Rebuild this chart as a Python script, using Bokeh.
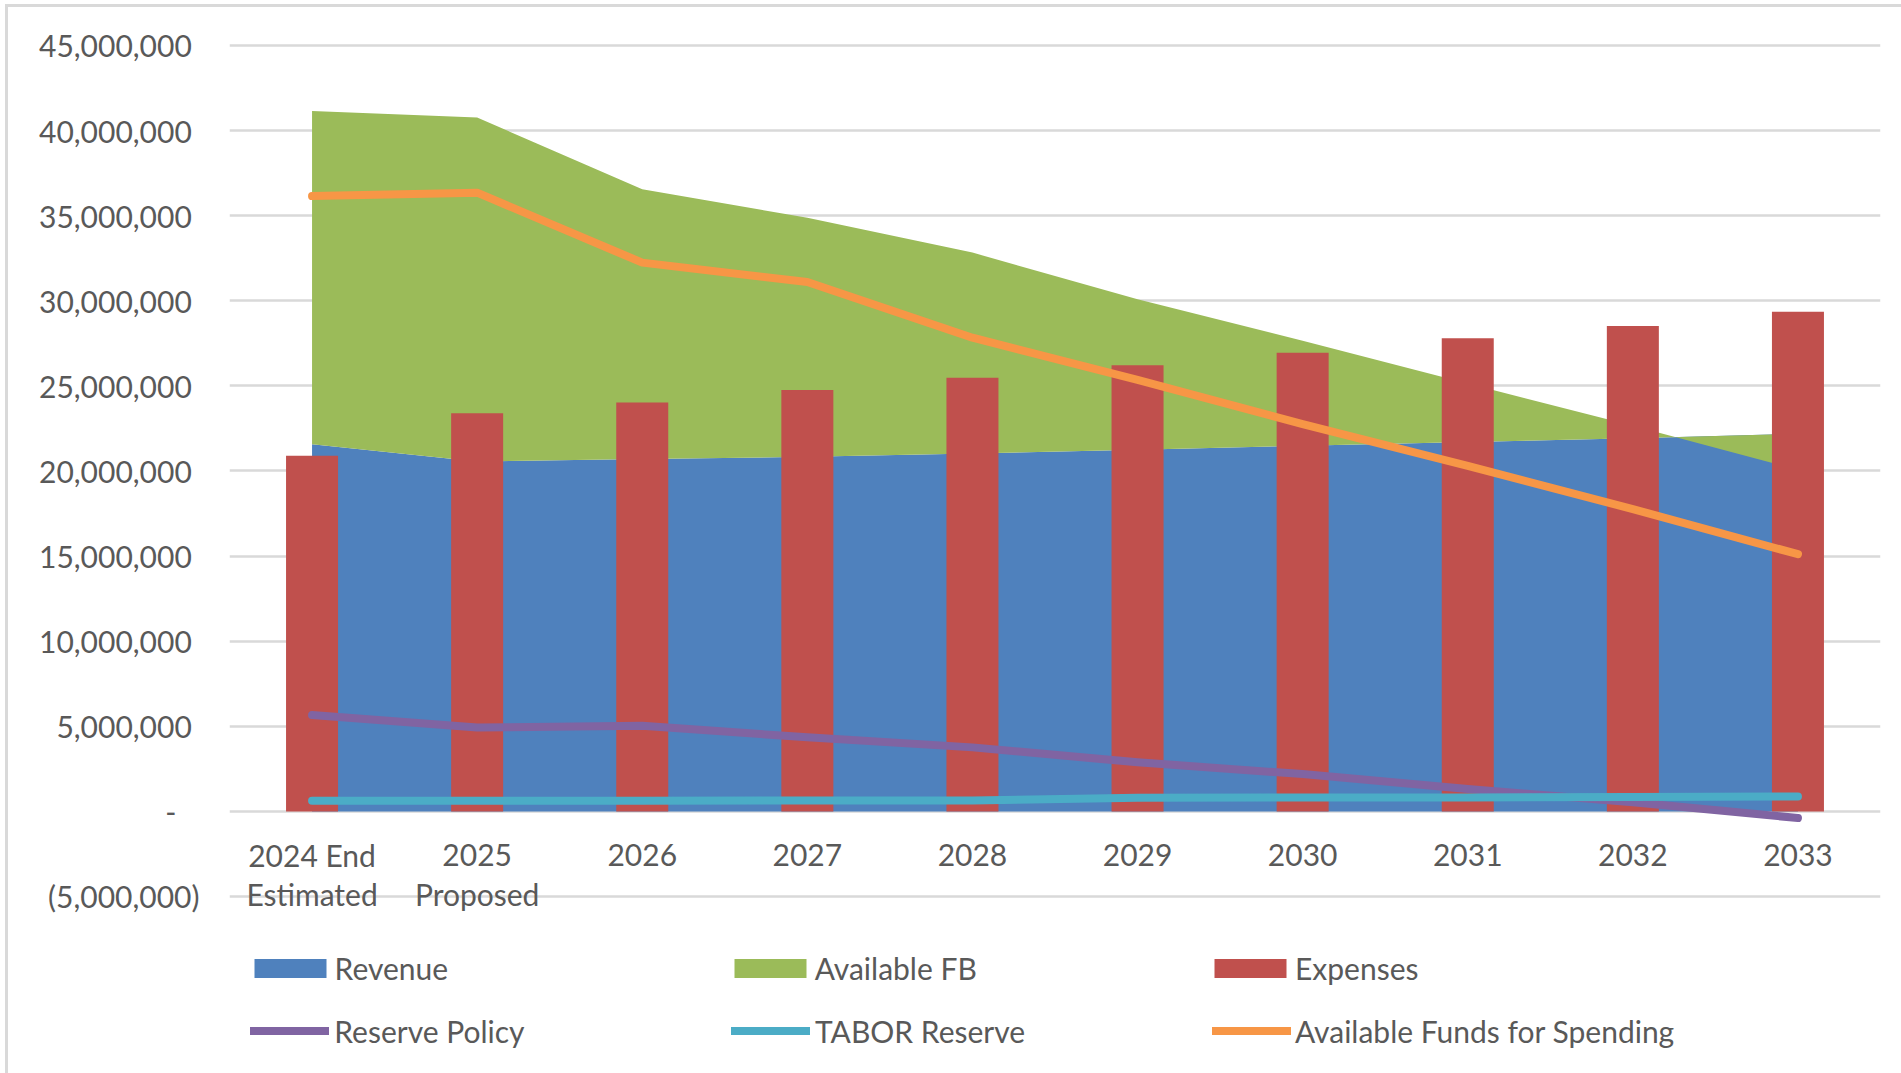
import numpy as np
from bokeh.plotting import figure
from bokeh.models import Range1d, FixedTicker, Legend, LegendItem
from bokeh.core.properties import value
from bokeh.embed import file_html
from bokeh.resources import INLINE

# ---------------- data ----------------
categories = ["2024 End\nEstimated", "2025\nProposed", "2026", "2027", "2028",
              "2029", "2030", "2031", "2032", "2033"]
revenue = [21.57e6, 20.55e6, 20.70e6, 20.83e6, 21.02e6, 21.24e6, 21.48e6, 21.70e6, 21.92e6, 22.19e6]
available_fb = [19.58e6, 20.21e6, 15.85e6, 14.05e6, 11.81e6, 8.85e6, 6.17e6, 3.44e6, 0.73e6, -2.12e6]
expenses = [20.89e6, 23.39e6, 24.02e6, 24.76e6, 25.48e6, 26.21e6, 26.95e6, 27.80e6, 28.52e6, 29.36e6]
reserve_policy = [5.66e6, 4.93e6, 5.03e6, 4.35e6, 3.76e6, 2.88e6, 2.19e6, 1.31e6, 0.53e6, -0.39e6]
tabor_reserve = [0.63e6, 0.63e6, 0.63e6, 0.64e6, 0.64e6, 0.80e6, 0.81e6, 0.82e6, 0.85e6, 0.88e6]
available_funds = [36.15e6, 36.35e6, 32.24e6, 31.10e6, 27.83e6, 25.35e6, 22.75e6, 20.30e6, 17.76e6, 15.11e6]

y_ticks = [-5e6, 0, 5e6, 10e6, 15e6, 20e6, 25e6, 30e6, 35e6, 40e6, 45e6]
y_tick_labels = ["(5,000,000)", "-", "5,000,000", "10,000,000", "15,000,000", "20,000,000",
                 "25,000,000", "30,000,000", "35,000,000", "40,000,000", "45,000,000"]

# ---------------- styling ----------------
FONT = "Lato"
TXT = "#595959"
GRID = "#d9d9d9"
C_REV, C_FB, C_EXP = "#4F81BD", "#9BBB59", "#C0504D"
C_RES, C_TAB, C_AVL = "#8064A2", "#4BACC6", "#F79646"

x = np.arange(len(categories))
rev = np.array(revenue)
fb_top = rev + np.array(available_fb)

p = figure(width=1901, height=1073, output_backend="svg", toolbar_location=None,
           tools="", x_axis_location=None,
           x_range=Range1d(-0.5, 9.5), y_range=Range1d(-15.40e6, 46.70e6),
           min_border_left=229, min_border_right=21, min_border_top=16, min_border_bottom=0)
p.outline_line_color = None
p.background_fill_color = "white"
p.border_fill_color = None
# chart border: only its top and left edges fall inside the picture
p.styles = {"background-color": "white",
            "box-shadow": "inset 5px 4px 0 0 #ffffff, inset 8px 7px 0 0 #d9d9d9"}

# y axis
ax = p.yaxis[0]
ax.ticker = FixedTicker(ticks=y_ticks)
pad = "\u00a0"
ax.major_label_overrides = {t: (l if l.startswith("(") else (l + pad * 3 if l == "-" else l + pad))
                            for t, l in zip(y_ticks, y_tick_labels)}
ax.axis_line_color = None
ax.major_tick_line_color = None
ax.minor_tick_line_color = None
ax.major_tick_out = 0
ax.major_tick_in = 0
ax.minor_tick_out = 0
ax.minor_tick_in = 0
ax.major_label_standoff = 30
ax.major_label_text_font = FONT
ax.major_label_text_font_size = "30px"
ax.major_label_text_color = TXT

p.ygrid.grid_line_color = GRID
p.ygrid.grid_line_width = 2.5
p.xgrid.visible = False

# areas (stacked)
r_rev = p.varea(x=x, y1=0, y2=rev, fill_color=C_REV)
r_fb = p.varea(x=x, y1=rev, y2=fb_top, fill_color=C_FB)
# columns
r_exp = p.vbar(x=x, width=0.315, bottom=0, top=expenses, fill_color=C_EXP, line_color=None)
# lines
lw = 8
r_res = p.line(x, reserve_policy, line_color=C_RES, line_width=lw, line_cap="round", line_join="round")
r_tab = p.line(x, tabor_reserve, line_color=C_TAB, line_width=lw, line_cap="round", line_join="round")
r_avl = p.line(x, available_funds, line_color=C_AVL, line_width=lw, line_cap="round", line_join="round")

# category labels (axis crosses at zero)
line1 = [c.split("\n")[0] for c in categories]
line2 = [c.split("\n")[1] if "\n" in c else "" for c in categories]
for txt, yv in ((line1, -2.54e6), (line2, -4.87e6)):
    p.text(x=x, y=yv, text=txt, text_font=value(FONT), text_font_size="30px",
           text_color=TXT, text_align="center", text_baseline="alphabetic")

# legend: one legend per entry, laid out as 3 columns x 2 rows
entries = [
    ("Revenue", r_rev, "box", 15.6, 85.2, 0),
    ("Available FB", r_fb, "box", 495.7, 85.2, 0),
    ("Expenses", r_exp, "box", 976.0, 85.2, 0),
    ("Reserve Policy", r_res, "line", 21.3, 22.2, 5),
    ("TABOR Reserve", r_tab, "line", 502.0, 22.2, 5),
    ("Available Funds for Spending", r_avl, "line", 983.0, 22.2, 4),
]
for label, r, kind, lx, ly, so in entries:
    gw, gh = (90, 24) if kind == "box" else (79, 19)
    lg = Legend(items=[LegendItem(label=label, renderers=[r])],
                location=(lx, ly), orientation="vertical",
                glyph_width=gw, glyph_height=gh, label_standoff=so, spacing=0,
                padding=0, margin=0, border_line_color=None, background_fill_alpha=0,
                label_height=40, label_text_baseline="alphabetic",
                label_text_font=FONT, label_text_font_size="30px", label_text_color=TXT)
    p.add_layout(lg)

open("out.html", "w").write(file_html(p, INLINE))
